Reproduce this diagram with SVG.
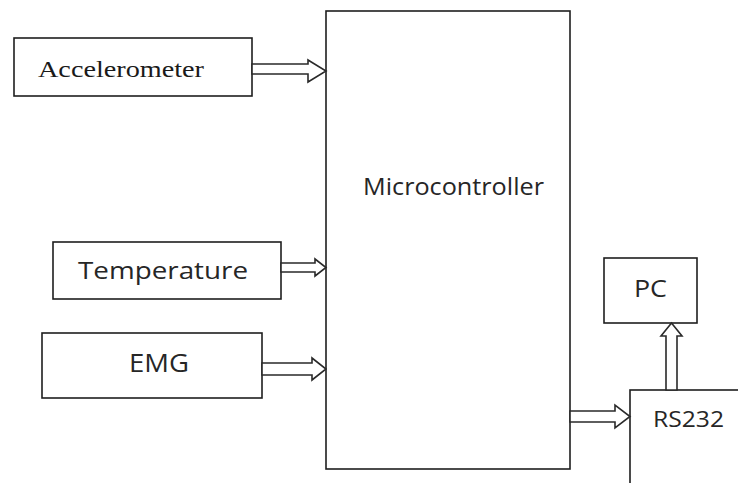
<svg xmlns="http://www.w3.org/2000/svg" width="738" height="483" viewBox="0 0 738 483">
<style>
.box{fill:#fff;stroke:#1e1e1e;stroke-width:1.6}
.arr{fill:#fff;stroke:#2a2a2a;stroke-width:1.6;stroke-linejoin:miter}
.sans{font-family:"Open Sans","Liberation Sans",sans-serif;fill:#262626}
.serif{font-family:"Liberation Serif","DejaVu Serif",serif;fill:#1a1a1a}
</style>
<rect width="738" height="483" fill="#fff"/>
<g id="accelerometer">
<rect class="box" x="14" y="38" width="238" height="58"/>
<text class="serif" x="38" y="77" font-size="24" textLength="166" lengthAdjust="spacingAndGlyphs">Accelerometer</text>
</g>
<g id="temperature">
<rect class="box" x="53" y="242" width="228" height="57"/>
<text class="sans" x="78" y="279" font-size="24" textLength="170" lengthAdjust="spacingAndGlyphs">Temperature</text>
</g>
<g id="emg">
<rect class="box" x="42" y="333" width="220" height="65"/>
<text class="sans" x="129" y="372" font-size="25" textLength="60" lengthAdjust="spacingAndGlyphs">EMG</text>
</g>
<g id="microcontroller">
<rect class="box" x="326" y="11" width="244" height="458"/>
<text class="sans" x="363" y="195" font-size="23" textLength="181" lengthAdjust="spacingAndGlyphs">Microcontroller</text>
</g>
<g id="pc">
<rect class="box" x="604" y="258" width="93" height="65"/>
<text class="sans" x="634" y="297" font-size="24" textLength="33" lengthAdjust="spacingAndGlyphs">PC</text>
</g>
<g id="rs232">
<rect class="box" x="630" y="390" width="120" height="100"/>
<text class="sans" x="653" y="427" font-size="22" textLength="71" lengthAdjust="spacingAndGlyphs">RS232</text>
</g>
<g id="connectors">
<polygon class="arr" points="252,64 308,64 308,60 326,71 308,82 308,74 252,74"/>
<polygon class="arr" points="281,263 315,263 315,259 326,267.5 315,276 315,272 281,272"/>
<polygon class="arr" points="262,363 312,363 312,358 326,369 312,380 312,375 262,375"/>
<polygon class="arr" points="570,411 615,411 615,405 630,416.5 615,428 615,422 570,422"/>
<polygon class="arr" points="666,390 666,336 661,336 671.5,323 682,336 677,336 677,390"/>
</g>
</svg>
